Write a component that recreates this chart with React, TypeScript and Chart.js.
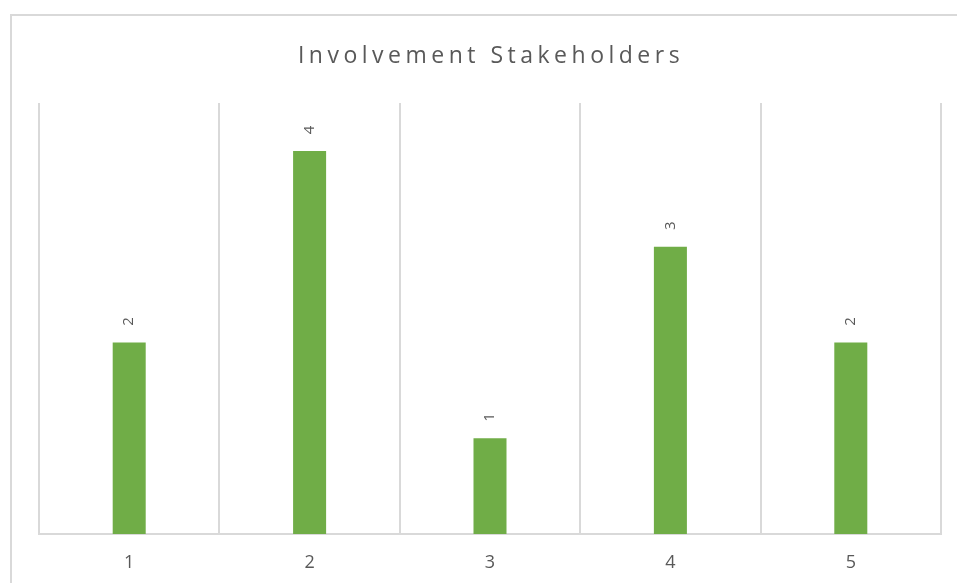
import React, { useEffect, useRef } from "react";
import { Chart, registerables } from "chart.js";

Chart.register(...registerables);

const categories = ["1", "2", "3", "4", "5"];
const values = [2, 4, 1, 3, 2];
const titleText = "Involvement Stakeholders";
const barColor = "#70AD47";
const textColor = "#595959";
const gridColor = "#D9D9D9";

const framePlugin = {
  id: "frame",
  beforeDraw(chart: any) {
    const ctx = chart.ctx;
    ctx.save();
    ctx.strokeStyle = gridColor;
    ctx.lineWidth = 2;
    ctx.strokeRect(11, 15, 1000, 700);
    ctx.restore();
  },
  afterDraw(chart: any) {
    const ctx = chart.ctx;
    ctx.save();
    ctx.fillStyle = textColor;
    ctx.font = "23px 'Open Sans', sans-serif";
    ctx.textAlign = "center";
    ctx.textBaseline = "middle";
    (ctx as any).letterSpacing = "4.5px";
    ctx.fillText(titleText, 491, 56);
    ctx.restore();
  },
};

const labelPlugin = {
  id: "barLabels",
  afterDatasetsDraw(chart: any) {
    const ctx = chart.ctx;
    const meta = chart.getDatasetMeta(0);
    ctx.save();
    ctx.fillStyle = textColor;
    ctx.font = "15px 'Open Sans', sans-serif";
    ctx.textAlign = "center";
    ctx.textBaseline = "middle";
    meta.data.forEach((bar: any, i: number) => {
      ctx.save();
      ctx.translate(bar.x, bar.y - 21);
      ctx.rotate(-Math.PI / 2);
      ctx.fillText(String(values[i]), 0, 0);
      ctx.restore();
    });
    ctx.restore();
  },
};

export default function App() {
  const ref = useRef<HTMLCanvasElement | null>(null);
  useEffect(() => {
    if (!ref.current) return;
    const chart = new Chart(ref.current, {
      type: "bar",
      data: {
        labels: categories,
        datasets: [
          {
            data: values,
            backgroundColor: barColor,
            borderWidth: 0,
            categoryPercentage: 1,
            barPercentage: 0.183,
          },
        ],
      },
      options: {
        animation: false,
        responsive: false,
        maintainAspectRatio: false,
        layout: { padding: { left: 39, right: 16, top: 103, bottom: 0 } },
        plugins: {
          legend: { display: false },
          title: { display: false },
          tooltip: { enabled: false },
        },
        scales: {
          x: {
            grid: {
              offset: true,
              color: gridColor,
              lineWidth: 2,
              drawTicks: false,
            },
            border: { color: gridColor, width: 2 },
            ticks: {
              color: textColor,
              font: { family: "'Open Sans', sans-serif", size: 18 },
              padding: 18,
            },
            afterFit(scale: any) {
              scale.height = 49;
            },
          },
          y: {
            display: false,
            min: 0,
            max: 4.5,
          },
        },
      },
      plugins: [framePlugin, labelPlugin],
    });
    return () => chart.destroy();
  }, []);
  return (
    <div style={{ position: "fixed", left: 0, top: 0, width: 957, height: 583, background: "#fff" }}>
      <canvas ref={ref} width={957} height={583} style={{ display: "block" }} />
    </div>
  );
}
